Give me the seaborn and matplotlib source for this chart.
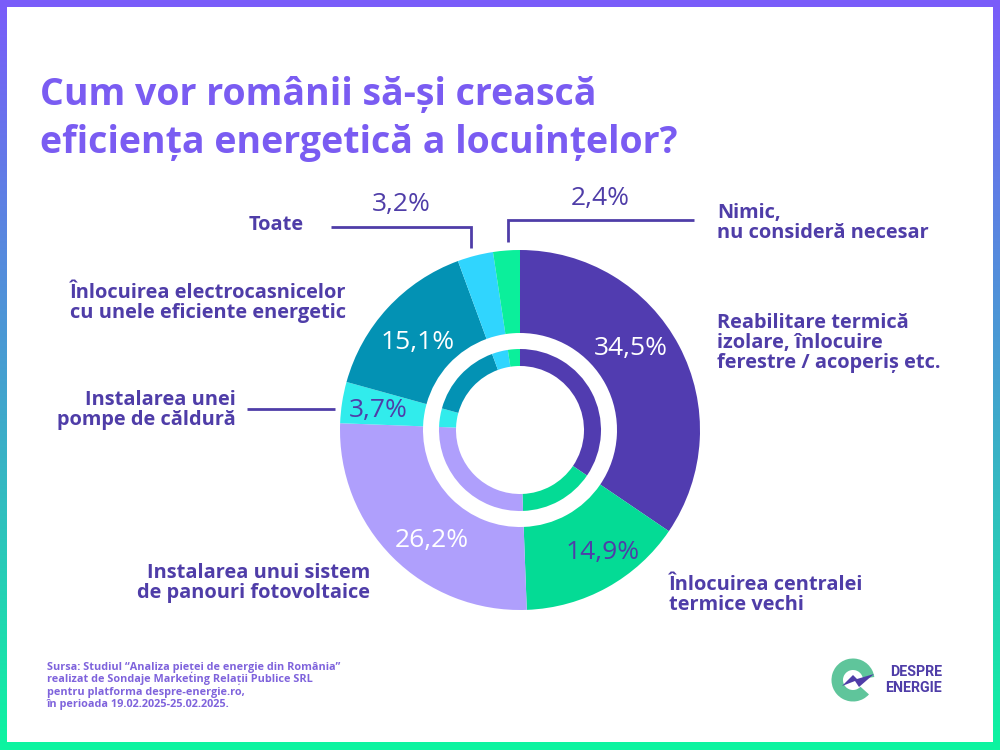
import numpy as np
import matplotlib
matplotlib.use("Agg")
import matplotlib.pyplot as plt
from matplotlib.colors import LinearSegmentedColormap
from matplotlib.patches import Wedge, Polygon, Rectangle
import seaborn as sns

categories = ["Reabilitare termică\nizolare, înlocuire\nferestre / acoperiș etc.",
              "Înlocuirea centralei\ntermice vechi",
              "Instalarea unui sistem\nde panouri fotovoltaice",
              "Instalarea unei\npompe de căldură",
              "Înlocuirea electrocasnicelor\ncu unele eficiente energetic",
              "Toate",
              "Nimic,\nnu consideră necesar"]
values = [34.5, 14.9, 26.2, 3.7, 15.1, 3.2, 2.4]
value_labels = ["34,5%", "14,9%", "26,2%", "3,7%", "15,1%", "3,2%", "2,4%"]
slice_colors = ["#513CB0", "#04DB95", "#AF9FFC", "#31ECEC", "#0392B4", "#30D5FE", "#0BEF9B"]

title = "Cum vor românii să-și crească\neficiența energetică a locuințelor?"
source = ("Sursa: Studiul “Analiza pieței de energie din România”\n"
          "realizat de Sondaje Marketing Relații Publice SRL\n"
          "pentru platforma despre-energie.ro,\n"
          "în perioada 19.02.2025-25.02.2025.")

PURPLE = "#7A5CF2"
DARK = "#4F3DA8"

sns.set_theme(style="white")
plt.rcParams['font.family'] = ['Open Sans', 'DejaVu Sans']

fig = plt.figure(figsize=(10, 7.5), dpi=100)

# background: gradient frame + white card, in pixel coords
bg = fig.add_axes([0, 0, 1, 1], zorder=0)
bg.axis("off")
frame = LinearSegmentedColormap.from_list("frame", ["#7A5CFA", "#45A0D0", "#0CF5A0"])
bg.imshow(np.linspace(0, 1, 256).reshape(-1, 1), cmap=frame, aspect="auto", extent=(0, 1000, 750, 0))
bg.add_patch(Rectangle((7, 7), 986, 735, color="white", lw=0))
bg.set_xlim(0, 1000)
bg.set_ylim(750, 0)

# donut, outer radius 180px around (520, 430)
ax = fig.add_axes([0.34, 140 / 750, 0.36, 360 / 750], zorder=1)
ax.pie(values, colors=slice_colors, startangle=90, counterclock=False, radius=1,
       wedgeprops=dict(width=83 / 180, linewidth=0))
ax.pie(values, colors=slice_colors, startangle=90, counterclock=False, radius=81 / 180,
       wedgeprops=dict(width=17 / 180, linewidth=0))
ax.set_xlim(-1, 1)
ax.set_ylim(-1, 1)

# everything else sits on top of the donut
fg = fig.add_axes([0, 0, 1, 1], zorder=2)
fg.patch.set_alpha(0)
fg.axis("off")
fg.set_xlim(0, 1000)
fg.set_ylim(750, 0)

fg.text(40, 119, title, color=PURPLE, fontsize=27, fontweight="bold", linespacing=1.34,
        ha="left", va="center")

# value labels
value_pos = [(631, 348), (603, 553), (432, 540), (378, 411), (418, 343), (401, 205), (600, 198)]
value_cols = ["white", DARK, "white", DARK, "white", DARK, DARK]
for lab, (x, y), c in zip(value_labels, value_pos, value_cols):
    fg.text(x, y, lab, color=c, fontsize=19, ha="center", va="center")

# category labels
cat_pos = [(717, 343, "left"), (669, 595, "left"), (370, 583, "right"), (236, 410, "right"),
           (346, 303, "right"), (304, 225, "right"), (717, 223, "left")]
for lab, (x, y, ha) in zip(categories, cat_pos):
    fg.text(x, y, lab, color=DARK, fontsize=14.4, fontweight="bold", ha=ha, va="center",
            multialignment=ha, linespacing=0.98)

# leader lines
fg.plot([247, 335], [408.5, 408.5], color=DARK, lw=2, solid_capstyle="butt")
fg.plot([331, 471, 471], [226.5, 226.5, 248], color=DARK, lw=2, solid_capstyle="butt", solid_joinstyle="miter")
fg.plot([507.5, 507.5, 694], [242, 219.5, 219.5], color=DARK, lw=2, solid_capstyle="butt", solid_joinstyle="miter")

fg.text(47, 686, source, color="#7F63DC", fontsize=7.8, fontweight="bold", ha="left", va="center",
        linespacing=1.2)

# logo
fg.add_patch(Wedge((853, 680), 21.5, 42, 352, width=11.5, color="#5FC59B", lw=0))
fg.add_patch(Polygon([(842, 686), (853, 675), (857, 679), (874, 674), (859, 687), (855, 681)],
                     color=DARK, lw=0))
fg.text(942, 672.5, "DESPRE", color=DARK, fontsize=10.3, fontweight="bold", ha="right", va="center", family="Roboto")
fg.text(942, 687.5, "ENERGIE", color=DARK, fontsize=10.3, fontweight="bold", ha="right", va="center", family="Roboto")

fig.savefig("out.png", dpi=100)
